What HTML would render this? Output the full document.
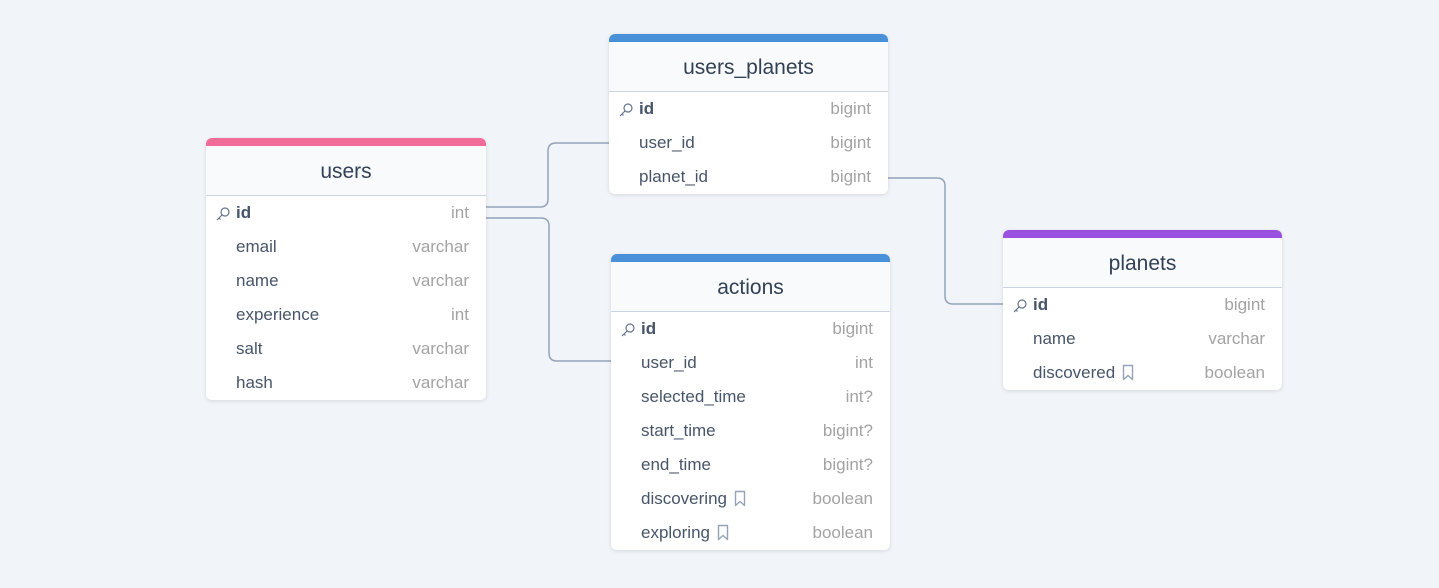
<!DOCTYPE html>
<html><head><style>
body{margin:0;width:1439px;height:588px;background:#f1f5f9;font-family:"Liberation Sans",sans-serif;position:relative;overflow:hidden}
.t{position:absolute;background:#fff;border-radius:6px;box-shadow:0 1px 4px rgba(0,0,0,.12);overflow:hidden}
.bar{height:8px}
.h{height:49px;background:#f8fafc;border-bottom:1px solid #cbd5e1;text-align:center;line-height:52px;font-size:21px;color:#334155}
.r{height:34px;line-height:34px;font-size:17px;color:#475569;position:relative;padding-left:30px}
.r b{color:#475569}
.r .ty{position:absolute;right:17px;top:0;color:#a3a3a3}
.k{position:absolute;left:9px;top:10px}
.bm{vertical-align:-3px;margin-left:6px}
</style></head><body>
<svg width="1439" height="588" style="position:absolute;left:0;top:0" fill="none" stroke="#94a3b8" stroke-width="1.5">
<path d="M486 207 H540 Q548 207 548 199 V151 Q548 143 556 143 H609"/>
<path d="M486 218 H541 Q549 218 549 226 V353 Q549 361 557 361 H611"/>
<path d="M888 178 H937 Q945 178 945 186 V296 Q945 304 953 304 H1003"/>
</svg>
<div class="t" style="left:206px;top:138px;width:280px;height:262px">
<div class="bar" style="background:#f06b9a"></div><div class="h">users</div>
<div class="r"><svg class="k" width="16" height="16" viewBox="0 0 16 16" fill="none" stroke="#64748b" stroke-width="1.2"><circle cx="10" cy="6" r="4"/><path d="M7 9 L2 14 M4 12 L5.5 13.5"/></svg><b>id</b><span class="ty">int</span></div>
<div class="r">email<span class="ty">varchar</span></div>
<div class="r">name<span class="ty">varchar</span></div>
<div class="r">experience<span class="ty">int</span></div>
<div class="r">salt<span class="ty">varchar</span></div>
<div class="r">hash<span class="ty">varchar</span></div>
</div>
<div class="t" style="left:609px;top:34px;width:279px;height:160px">
<div class="bar" style="background:#4a90d9"></div><div class="h">users_planets</div>
<div class="r"><svg class="k" width="16" height="16" viewBox="0 0 16 16" fill="none" stroke="#64748b" stroke-width="1.2"><circle cx="10" cy="6" r="4"/><path d="M7 9 L2 14 M4 12 L5.5 13.5"/></svg><b>id</b><span class="ty">bigint</span></div>
<div class="r">user_id<span class="ty">bigint</span></div>
<div class="r">planet_id<span class="ty">bigint</span></div>
</div>
<div class="t" style="left:611px;top:254px;width:279px;height:296px">
<div class="bar" style="background:#4a90d9"></div><div class="h">actions</div>
<div class="r"><svg class="k" width="16" height="16" viewBox="0 0 16 16" fill="none" stroke="#64748b" stroke-width="1.2"><circle cx="10" cy="6" r="4"/><path d="M7 9 L2 14 M4 12 L5.5 13.5"/></svg><b>id</b><span class="ty">bigint</span></div>
<div class="r">user_id<span class="ty">int</span></div>
<div class="r">selected_time<span class="ty">int?</span></div>
<div class="r">start_time<span class="ty">bigint?</span></div>
<div class="r">end_time<span class="ty">bigint?</span></div>
<div class="r">discovering<svg class="bm" width="14" height="17" viewBox="0 0 14 17" fill="none" stroke="#94a3b8" stroke-width="1.4" stroke-linejoin="round"><path d="M2.5 1.5 H11.5 V15.5 L7 11.5 L2.5 15.5 Z"/></svg><span class="ty">boolean</span></div>
<div class="r">exploring<svg class="bm" width="14" height="17" viewBox="0 0 14 17" fill="none" stroke="#94a3b8" stroke-width="1.4" stroke-linejoin="round"><path d="M2.5 1.5 H11.5 V15.5 L7 11.5 L2.5 15.5 Z"/></svg><span class="ty">boolean</span></div>
</div>
<div class="t" style="left:1003px;top:230px;width:279px;height:160px">
<div class="bar" style="background:#9b51e0"></div><div class="h">planets</div>
<div class="r"><svg class="k" width="16" height="16" viewBox="0 0 16 16" fill="none" stroke="#64748b" stroke-width="1.2"><circle cx="10" cy="6" r="4"/><path d="M7 9 L2 14 M4 12 L5.5 13.5"/></svg><b>id</b><span class="ty">bigint</span></div>
<div class="r">name<span class="ty">varchar</span></div>
<div class="r">discovered<svg class="bm" width="14" height="17" viewBox="0 0 14 17" fill="none" stroke="#94a3b8" stroke-width="1.4" stroke-linejoin="round"><path d="M2.5 1.5 H11.5 V15.5 L7 11.5 L2.5 15.5 Z"/></svg><span class="ty">boolean</span></div>
</div>
</body></html>
